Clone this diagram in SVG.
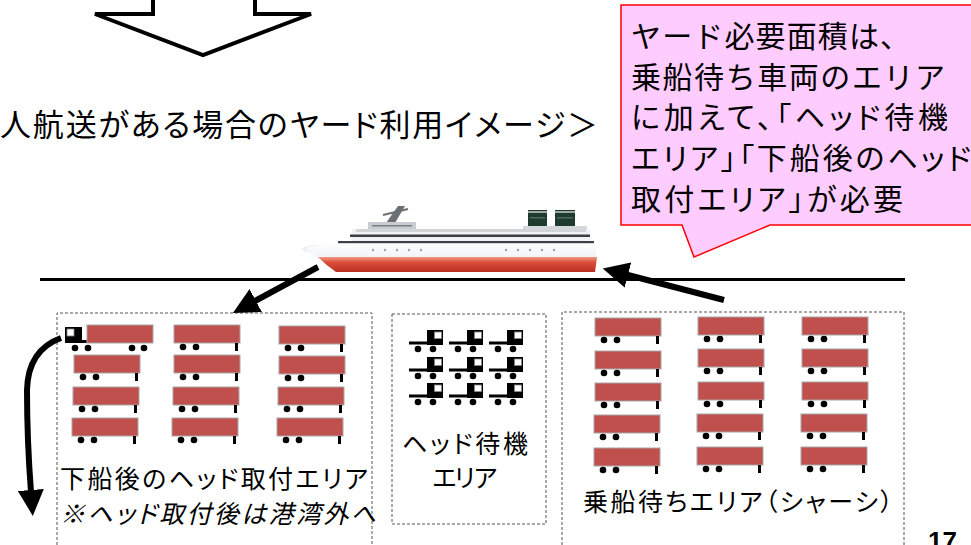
<svg xmlns="http://www.w3.org/2000/svg" xmlns:xlink="http://www.w3.org/1999/xlink" width="971" height="545" viewBox="0 0 971 545">
<style>
  .jp{font-family:"Noto Sans CJK JP","Noto Sans",sans-serif;fill:#000}
  .t31{font-size:31px}
  .t30{font-size:30px}
  .t24{font-size:25px}
  .palt{font-feature-settings:"palt"}
  .area{fill:none;stroke:#555;stroke-width:1;stroke-dasharray:3 2}
  .trl{fill:#C0504D;stroke:#A6A6A6;stroke-width:1}
  .win{fill:#fff;stroke:#888;stroke-width:0.8}
  .arrow{fill:none;stroke:#000;stroke-width:6}
</style>
<defs>
  <marker id="head" markerUnits="userSpaceOnUse" markerWidth="26" markerHeight="26" refX="2" refY="13" orient="auto">
    <path d="M0,0 L26,13 L0,26 Z" fill="#000"/>
  </marker>
  <linearGradient id="hullRed" x1="0" y1="0" x2="0" y2="1">
    <stop offset="0" stop-color="#f29a84"/>
    <stop offset="0.35" stop-color="#dc4f3a"/>
    <stop offset="1" stop-color="#b92f20"/>
  </linearGradient>
  <linearGradient id="hullWhite" x1="0" y1="0" x2="0" y2="1">
    <stop offset="0" stop-color="#ffffff"/>
    <stop offset="1" stop-color="#e4e7ea"/>
  </linearGradient>
  <!-- chassis: red trailer box, twin wheels at front, landing leg at rear -->
  <g id="trailer">
    <rect class="trl" x="0" y="0" width="66" height="18"/>
    <circle cx="9" cy="22" r="3.3"/>
    <circle cx="22" cy="22" r="3.3"/>
    <rect x="61" y="18" width="3" height="8"/>
  </g>
  <!-- tractor head facing right -->
  <g id="tractor">
    <rect x="0" y="11.5" width="18" height="3"/>
    <rect x="18" y="0" width="16" height="15"/>
    <rect class="win" x="25.5" y="2" width="7" height="6.5"/>
    <circle cx="9" cy="19" r="3.3"/>
    <circle cx="24" cy="19" r="3.3"/>
  </g>
</defs>

<rect width="971" height="545" fill="#fff"/>

<!-- block arrow pointing down -->
<g id="flowArrow">
  <path d="M153,-10 V14 H95 L203,55 L311,14 H255 V-10" fill="#fff" stroke="#000" stroke-width="4" stroke-linejoin="miter"/>
</g>

<g id="title">
  <text class="jp t31 palt" x="0" y="136" textLength="598" lengthAdjust="spacing">人航送がある場合のヤード利用イメージ＞</text>
</g>

<!-- speech balloon -->
<g id="note">
  <path d="M621,5 H976 V225 H770 L694,257 L682,225 H621 Z" fill="#FFCCFF" stroke="#FF0000" stroke-width="1.5"/>
  <text class="jp t30" x="631" y="47" textLength="279" lengthAdjust="spacing">ヤード必要面積は、</text>
  <text class="jp t30" x="631" y="88" textLength="314" lengthAdjust="spacing">乗船待ち車両のエリア</text>
  <text class="jp t30 palt" x="631" y="128" textLength="317" lengthAdjust="spacing">に加えて、「ヘッド待機</text>
  <text class="jp t30 palt" x="631" y="169" textLength="340" lengthAdjust="spacing">エリア」「下船後のヘッド</text>
  <text class="jp t30 palt" x="631" y="210" textLength="272" lengthAdjust="spacing">取付エリア」が必要</text>
</g>

<!-- ferry -->
<g id="ship">
  <ellipse cx="318" cy="249" rx="16" ry="4" fill="#eef0f2"/>
  <!-- radar mast -->
  <path d="M386,223 L398,206 L405,206 L395,223 Z" fill="#6b7075"/>
  <path d="M383,215 L408,209" stroke="#6b7075" stroke-width="2"/>
  <!-- funnels -->
  <rect x="528" y="210" width="19" height="17" fill="#1f3a2e"/>
  <rect x="555" y="210" width="20" height="17" fill="#1f3a2e"/>
  <rect x="528" y="211" width="19" height="2" fill="#9aa8a0"/>
  <rect x="555" y="211" width="20" height="2" fill="#9aa8a0"/>
  <rect x="530" y="217" width="15" height="1.5" fill="#4d6a5a"/>
  <rect x="557" y="217" width="16" height="1.5" fill="#4d6a5a"/>
  <!-- bridge and decks -->
  <rect x="368" y="222" width="48" height="8" fill="#c9ccd0"/>
  <rect x="372" y="225" width="40" height="1.5" fill="#7a8088"/>
  <rect x="523" y="226" width="64" height="4" fill="#d5d8db"/>
  <rect x="352" y="229" width="238" height="13" fill="#f1f2f3"/>
  <rect x="356" y="229" width="230" height="3" fill="#d2d5d8"/>
  <rect x="350" y="234.5" width="240" height="2.5" fill="#3b4046"/>
  <!-- hull -->
  <path d="M305,248 L338,242 L594,242 L597,258 L595,272 L336,272 Q322,262 305,248 Z" fill="url(#hullWhite)"/>
  <rect x="338" y="241" width="256" height="2.2" fill="#3b4046"/>
  <path d="M318,257 L597,257 L595,272 L336,272 Q326,265 318,257 Z" fill="url(#hullRed)"/>
  <g fill="#9aa3a8">
    <circle cx="373" cy="250" r="1.2"/><circle cx="385" cy="250" r="1.2"/><circle cx="397" cy="250" r="1.2"/><circle cx="409" cy="250" r="1.2"/><circle cx="421" cy="250" r="1.2"/>
    <circle cx="506" cy="250" r="1.2"/><circle cx="518" cy="250" r="1.2"/><circle cx="530" cy="250" r="1.2"/><circle cx="542" cy="250" r="1.2"/><circle cx="554" cy="250" r="1.2"/>
  </g>
</g>

<!-- quay line -->
<g id="quay">
  <line x1="40" y1="279.5" x2="905" y2="279.5" stroke="#000" stroke-width="3"/>
</g>

<!-- unloading area: heads are coupled here -->
<g id="unloadArea">
  <path class="area" d="M57,550 V313 H372 V550"/>
  <!-- coupled tractor + chassis leaving -->
  <rect x="65" y="327" width="17" height="16"/>
  <rect class="win" x="67" y="329" width="7" height="7"/>
  <rect x="82" y="340" width="6" height="3"/>
  <rect class="trl" x="87" y="325" width="66" height="18"/>
  <circle cx="75" cy="348" r="3.3"/><circle cx="88" cy="348" r="3.3"/>
  <circle cx="132" cy="348" r="3.3"/><circle cx="144" cy="348" r="3.3"/>
  <use xlink:href="#trailer" x="74" y="355"/>
  <use xlink:href="#trailer" x="73" y="387"/>
  <use xlink:href="#trailer" x="72" y="418"/>
  <use xlink:href="#trailer" x="174" y="325"/>
  <use xlink:href="#trailer" x="174" y="355"/>
  <use xlink:href="#trailer" x="173" y="387"/>
  <use xlink:href="#trailer" x="172" y="418"/>
  <use xlink:href="#trailer" x="279" y="326"/>
  <use xlink:href="#trailer" x="279" y="356"/>
  <use xlink:href="#trailer" x="278" y="387"/>
  <use xlink:href="#trailer" x="277" y="418"/>
  <text class="jp t24 palt" x="60" y="488" textLength="308" lengthAdjust="spacing">下船後のヘッド取付エリア</text>
  <text class="jp t24 palt" x="60" y="523" font-style="italic" textLength="316" lengthAdjust="spacing">※ヘッド取付後は港湾外へ</text>
</g>

<!-- head waiting area -->
<g id="headArea">
  <rect class="area" x="392" y="314" width="154" height="210"/>
  <use xlink:href="#tractor" x="409" y="330"/>
  <use xlink:href="#tractor" x="449" y="330"/>
  <use xlink:href="#tractor" x="489" y="330"/>
  <use xlink:href="#tractor" x="409" y="357"/>
  <use xlink:href="#tractor" x="449" y="357"/>
  <use xlink:href="#tractor" x="489" y="357"/>
  <use xlink:href="#tractor" x="409" y="383"/>
  <use xlink:href="#tractor" x="449" y="383"/>
  <use xlink:href="#tractor" x="489" y="383"/>
  <text class="jp t24 palt" x="402" y="453" textLength="126" lengthAdjust="spacing">ヘッド待機</text>
  <text class="jp t24" x="432" y="487" textLength="66" lengthAdjust="spacing">エリア</text>
</g>

<!-- boarding wait area (chassis only) -->
<g id="boardArea">
  <path class="area" d="M562,550 V312 H904 V550"/>
  <use xlink:href="#trailer" x="595" y="318"/>
  <use xlink:href="#trailer" x="595" y="351"/>
  <use xlink:href="#trailer" x="595" y="383"/>
  <use xlink:href="#trailer" x="594" y="415"/>
  <use xlink:href="#trailer" x="594" y="448"/>
  <use xlink:href="#trailer" x="698" y="317"/>
  <use xlink:href="#trailer" x="698" y="349"/>
  <use xlink:href="#trailer" x="698" y="382"/>
  <use xlink:href="#trailer" x="697" y="414"/>
  <use xlink:href="#trailer" x="697" y="447"/>
  <use xlink:href="#trailer" x="802" y="317"/>
  <use xlink:href="#trailer" x="802" y="349"/>
  <use xlink:href="#trailer" x="802" y="382"/>
  <use xlink:href="#trailer" x="801" y="414"/>
  <use xlink:href="#trailer" x="801" y="447"/>
  <text class="jp t24 palt" x="583" y="511" textLength="310" lengthAdjust="spacing">乗船待ちエリア（シャーシ）</text>
</g>

<!-- movement arrows -->
<g id="connectors">
  <path class="arrow" d="M318,267 L254,301.5" marker-end="url(#head)"/>
  <path class="arrow" d="M724,300 L626,274.5" marker-end="url(#head)"/>
  <path class="arrow" stroke-width="7" d="M61,338 Q28,350 27,390 Q27,440 31,492" marker-end="url(#head)"/>
</g>

<g id="pageNo">
  <text x="928" y="550" font-family="Liberation Sans, Arial, sans-serif" font-weight="bold" font-size="26">17</text>
</g>
</svg>
